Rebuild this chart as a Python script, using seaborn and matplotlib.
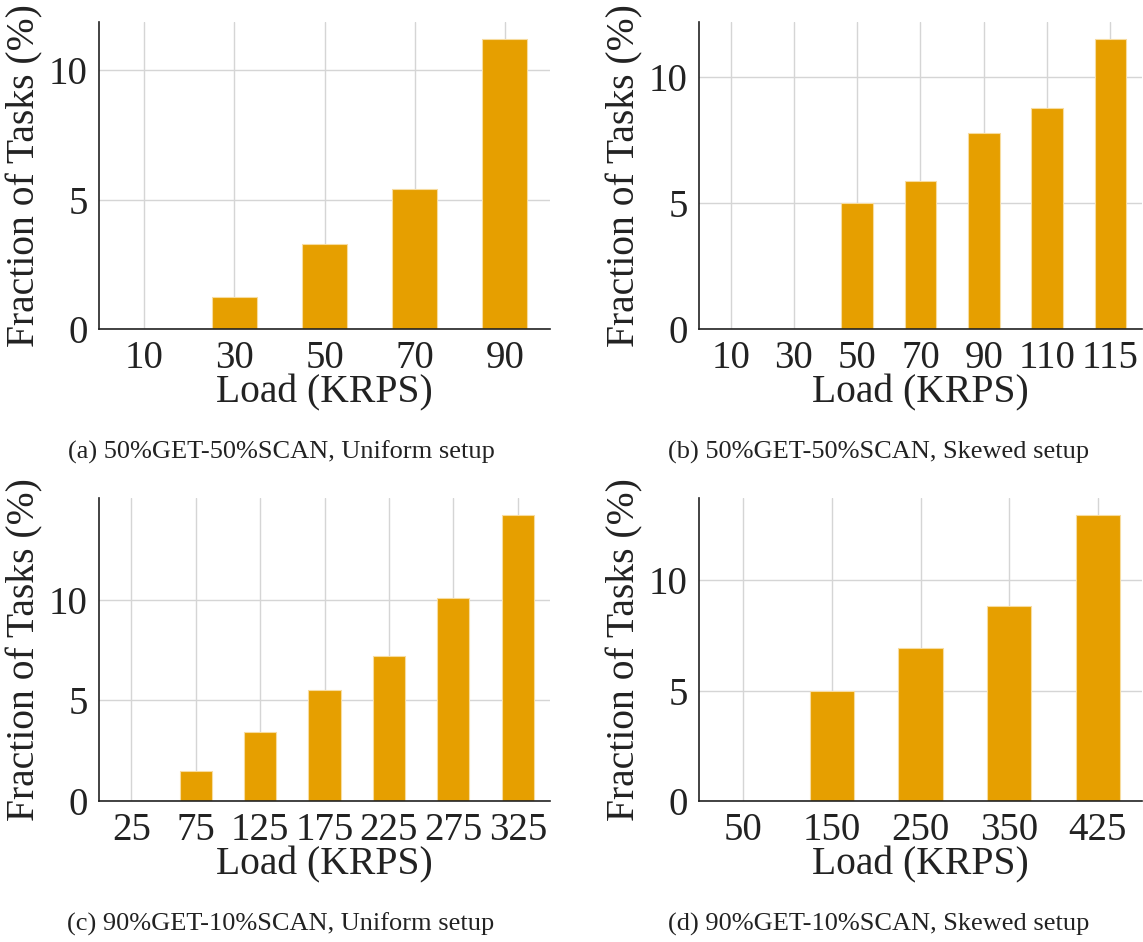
import matplotlib
matplotlib.use("Agg")
import matplotlib.pyplot as plt
import seaborn as sns
import pandas as pd

# ---- data ----
loads_a = ["10", "30", "50", "70", "90"]
frac_a = [0.0, 1.24, 3.29, 5.43, 11.2]

loads_b = ["10", "30", "50", "70", "90", "110", "115"]
frac_b = [0.0, 0.0, 5.0, 5.86, 7.77, 8.76, 11.5]

loads_c = ["25", "75", "125", "175", "225", "275", "325"]
frac_c = [0.0, 1.48, 3.45, 5.52, 7.19, 10.1, 14.2]

loads_d = ["50", "150", "250", "350", "425"]
frac_d = [0.0, 4.97, 6.95, 8.83, 12.96]

captions = [
    "(a) 50%GET-50%SCAN, Uniform setup",
    "(b) 50%GET-50%SCAN, Skewed setup",
    "(c) 90%GET-10%SCAN, Uniform setup",
    "(d) 90%GET-10%SCAN, Skewed setup",
]

sns.set_theme(style="whitegrid")
plt.rcParams["font.family"] = ["Liberation Serif", "DejaVu Serif"]

W, H = 1143, 942
fig = plt.figure(figsize=(W / 100, H / 100), dpi=100)

# axes boxes in pixel coords: left, top, right, bottom
boxes = [
    (99, 22, 550, 329),
    (699, 22, 1142, 329),
    (99, 498, 550, 801),
    (699, 498, 1142, 801),
]
cap_pos = [(281, 452), (879, 452), (281, 924), (879, 924)]
panels = [(loads_a, frac_a), (loads_b, frac_b), (loads_c, frac_c), (loads_d, frac_d)]

color = "#E69F00"
for (l, t, r, b), (loads, vals), cap, (cx, cy) in zip(boxes, panels, captions, cap_pos):
    ax = fig.add_axes([l / W, 1 - b / H, (r - l) / W, (b - t) / H])
    df = pd.DataFrame({"Load": loads, "Frac": vals})
    sns.barplot(data=df, x="Load", y="Frac", order=loads, color=color,
                width=0.5, ax=ax, edgecolor="#f7dca0", linewidth=0.8,
                saturation=1)
    ax.set_xlim(-0.5, len(loads) - 0.5)
    ax.set_ylim(0, max(vals) * 1.06)
    ax.set_yticks([0, 5, 10])
    ax.grid(True, color="#d5d5d5", linewidth=1.0)
    ax.set_axisbelow(True)
    for s in ["top", "right"]:
        ax.spines[s].set_visible(False)
    for s in ["left", "bottom"]:
        ax.spines[s].set_color("#222222")
        ax.spines[s].set_linewidth(1.2)
    ax.tick_params(axis="both", which="both", length=5, width=1.0,
                   color="#222222", labelsize=28, pad=3, labelcolor="#222222")
    ax.set_xlabel("Load (KRPS)", fontsize=28.5, color="#222222", labelpad=-2)
    ax.set_ylabel("Fraction of Tasks (%)", fontsize=28.5, color="#222222", labelpad=4)
    fig.text(cx / W, 1 - cy / H, cap, ha="center", va="center",
             fontsize=19, color="#222222")

fig.savefig("out.png", dpi=100)
